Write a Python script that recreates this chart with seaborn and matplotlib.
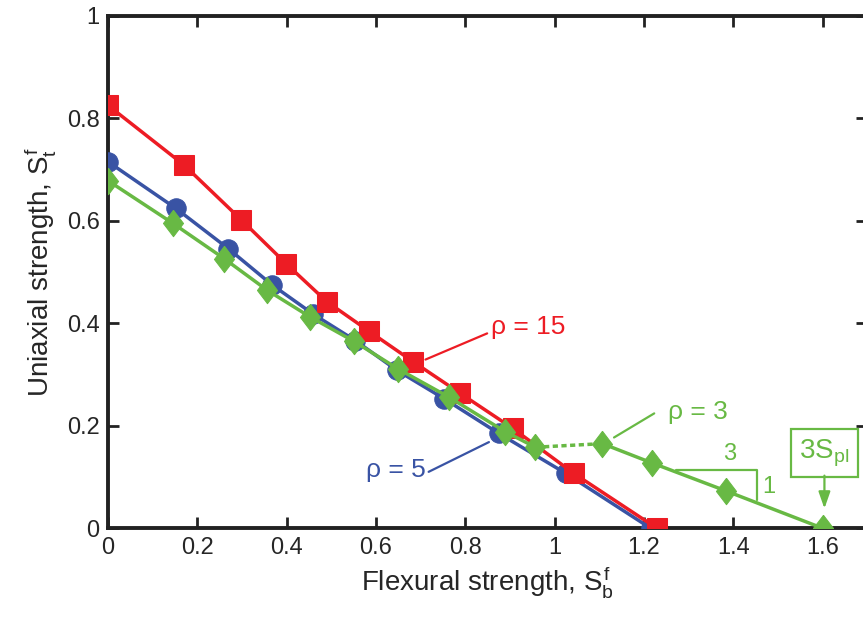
import numpy as np
import seaborn as sns
import matplotlib.pyplot as plt

# rho = 15 (red squares)
x_r15 = [0, 0.171, 0.298, 0.399, 0.490, 0.585, 0.683, 0.789, 0.906, 1.043, 1.229]
y_r15 = [0.825, 0.708, 0.602, 0.516, 0.442, 0.384, 0.325, 0.263, 0.195, 0.107, 0]

# rho = 5 (blue circles)
x_r5 = [0, 0.152, 0.270, 0.367, 0.459, 0.554, 0.647, 0.752, 0.875, 1.025, 1.215]
y_r5 = [0.715, 0.624, 0.545, 0.475, 0.418, 0.366, 0.308, 0.253, 0.185, 0.107, 0]

# rho = 3 (green diamonds), split into the two solid branches
x_r3a = [0, 0.145, 0.260, 0.357, 0.453, 0.550, 0.649, 0.763, 0.890, 0.957]
y_r3a = [0.678, 0.595, 0.526, 0.464, 0.412, 0.365, 0.311, 0.256, 0.188, 0.158]
x_r3b = [1.107, 1.219, 1.383, 1.6]
y_r3b = [0.165, 0.127, 0.073, 0]

x_ticks = [0, 0.2, 0.4, 0.6, 0.8, 1, 1.2, 1.4, 1.6]
x_ticklabels = ['0', '0.2', '0.4', '0.6', '0.8', '1', '1.2', '1.4', '1.6']
y_ticks = [0, 0.2, 0.4, 0.6, 0.8, 1]
y_ticklabels = ['0', '0.2', '0.4', '0.6', '0.8', '1']

red = '#ed1c24'
blue = '#3953a4'
green = '#68b944'

sns.set_style('ticks')
plt.rcParams['font.family'] = ['Liberation Sans', 'DejaVu Sans']
plt.rcParams['mathtext.fontset'] = 'custom'
plt.rcParams['mathtext.rm'] = 'Liberation Sans'
plt.rcParams['mathtext.it'] = 'Liberation Sans'

fig = plt.figure(figsize=(8.63, 6.2), dpi=100)
ax = fig.add_axes([0.125, 0.148, 0.880, 0.827])

diamond = [(0, 1), (0.76, 0), (0, -1), (-0.76, 0), (0, 1)]
lw = 2.5

sns.lineplot(x=x_r5, y=y_r5, ax=ax, sort=False, color=blue, linewidth=lw,
             marker='o', markersize=14, markeredgecolor=blue, zorder=3)
sns.lineplot(x=x_r15, y=y_r15, ax=ax, sort=False, color=red, linewidth=lw,
             marker='s', markersize=14, markeredgecolor=red, zorder=4)
sns.lineplot(x=x_r3a, y=y_r3a, ax=ax, sort=False, color=green, linewidth=lw,
             marker=diamond, markersize=19, markeredgecolor=green, zorder=5)
sns.lineplot(x=x_r3b, y=y_r3b, ax=ax, sort=False, color=green, linewidth=lw,
             marker=diamond, markersize=19, markeredgecolor=green, zorder=5)
# dashed jump between branches
ax.plot([x_r3a[-1], x_r3b[0]], [y_r3a[-1], y_r3b[0]], color=green,
        linewidth=lw, linestyle=(0, (1.5, 1)), zorder=4)

# labels for each curve
ax.plot([0.711, 0.849], [0.329, 0.380], color=red, linewidth=1.6)
ax.text(0.857, 0.392, 'ρ = 15', color=red, fontsize=19, va='center', ha='left')
ax.plot([0.718, 0.853], [0.110, 0.168], color=blue, linewidth=1.6)
ax.text(0.712, 0.113, 'ρ = 5', color=blue, fontsize=19, va='center', ha='right')
ax.plot([1.133, 1.223], [0.177, 0.224], color=green, linewidth=1.6)
ax.text(1.253, 0.227, 'ρ = 3', color=green, fontsize=19, va='center', ha='left')

# slope triangle
ax.plot([1.271, 1.453, 1.453], [0.114, 0.114, 0.055], color=green, linewidth=1.6)
ax.text(1.391, 0.145, '3', color=green, fontsize=17, ha='center', va='center')
ax.text(1.480, 0.080, '1', color=green, fontsize=17, ha='center', va='center')

# 3S_pl box and arrow
ax.text(1.604, 0.146, r'3S$_{\mathrm{pl}}$', color=green, fontsize=20,
        ha='center', va='center',
        bbox=dict(boxstyle='square,pad=0.3', facecolor='white', edgecolor=green, linewidth=1.6))
ax.annotate('', xy=(1.604, 0.033), xytext=(1.604, 0.108),
            arrowprops=dict(arrowstyle='-|>,head_length=1.0,head_width=0.35',
                            color=green, linewidth=1.6))

ax.set_xlim(0, 1.7)
ax.set_ylim(0, 1)
ax.set_xticks(x_ticks)
ax.set_xticklabels(x_ticklabels)
ax.set_yticks(y_ticks)
ax.set_yticklabels(y_ticklabels)
ax.tick_params(direction='in', length=8, width=2, labelsize=17, color='#222222',
               top=True, right=True, pad=6)
for s in ax.spines.values():
    s.set_linewidth(2.8)
    s.set_color('#222222')
    s.set_visible(True)

ax.set_xlabel(r'Flexural strength, $S_b^f$', fontsize=20, labelpad=4)
ax.set_ylabel(r'Uniaxial strength, $S_t^f$', fontsize=20, labelpad=6)

fig.savefig('out.png', dpi=100)
